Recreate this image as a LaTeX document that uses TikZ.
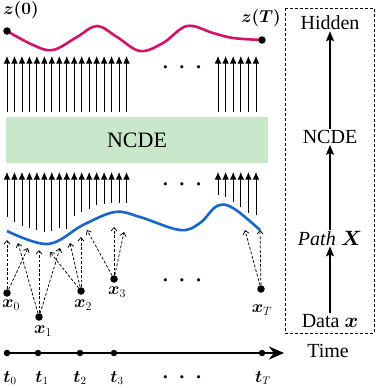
\documentclass[tikz,border=0pt]{standalone}
\usepackage{amsmath}
\usepackage[no-math]{fontspec}
\setmainfont{Liberation Serif}
\usetikzlibrary{arrows.meta}
\definecolor{curveA}{RGB}{214,18,104}
\definecolor{curveB}{RGB}{22,102,204}
\definecolor{ncdegreen}{RGB}{201,231,203}
\begin{document}
\begin{tikzpicture}[x=1pt,y=-1pt,
 dot/.style={circle,fill=black,inner sep=0pt,minimum size=7.5pt},
 tdot/.style={circle,fill=black,inner sep=0pt,minimum size=6.5pt},
 flow/.style={line width=0.8pt,-{Latex[length=7.5pt,width=6.5pt]}},
 feed/.style={line width=0.75pt,dash pattern=on 2.8pt off 1.8pt,-{Straight Barb[length=3.5pt,width=6pt]}},
 lab/.style={font=\fontsize{17}{20}\selectfont,inner sep=0pt},
 tlab/.style={font=\fontsize{16}{19}\selectfont,inner sep=0pt,anchor=base},
 big/.style={font=\fontsize{20}{24}\selectfont,inner sep=1pt},
 ellip/.style={font=\fontsize{20}{24}\selectfont,inner sep=0pt},
 stepflow/.style={line width=1.3pt,-{Stealth[length=10pt,width=8pt,inset=2pt]}}
]
\useasboundingbox (0,0) rectangle (376,388);

% top curve
\draw[curveA,line width=2.6pt] plot[smooth,tension=0.6] coordinates
 {(7,31) (33,45) (53,50) (77,37) (97,26) (117,37) (140,51) (163,43) (187,26) (213,33) (233,38) (262,40)};
\node[dot] (z0) at (7,31) {};
\node[dot] (zT) at (262,40) {};
\node[lab] (lz0) at (21,10) {$\boldsymbol{z(0)}$};
\node[lab] (lzT) at (261,18) {$\boldsymbol{z(T)}$};

% top arrows
\foreach \i in {0,...,16} \draw[flow] ({7+7.47*\i},112) -- ({7+7.47*\i},56);
\foreach \i in {0,...,5} \draw[flow] ({218+7.6*\i},112) -- ({218+7.6*\i},56);
\node[ellip] (dotsA) at (182,68) {$\boldsymbol{\cdot}$\hspace{10pt}$\boldsymbol{\cdot}$\hspace{10pt}$\boldsymbol{\cdot}$};

% NCDE box
\node[fill=ncdegreen,minimum width=262pt,minimum height=46pt,inner sep=0pt,font=\fontsize{22}{26}\selectfont] (ncde) at (137,140) {NCDE};

% lower arrows
\foreach \b [count=\i from 0] in {217,222,225.5,228,230,231.5,231,228,229,216,212,209,205,203.5,203,203,203}
  \draw[flow] ({7+7.47*\i},\b) -- ({7+7.47*\i},172);
\foreach \b [count=\i from 0] in {195,197,202,207,213,215}
  \draw[flow] ({218+7.6*\i},\b) -- ({218+7.6*\i},172);
\node[ellip] (dotsB) at (182,185) {$\boldsymbol{\cdot}$\hspace{10pt}$\boldsymbol{\cdot}$\hspace{10pt}$\boldsymbol{\cdot}$};

% blue curve
\draw[curveB,line width=2.6pt] plot[smooth,tension=0.6] coordinates
 {(7,231) (48,244) (83,225) (115,212) (140,217) (180,230) (200,223) (217,206) (233,208) (260,230)};

% data points
\node[dot] (x0) at (7,293) {};
\node[dot] (x1) at (39,317) {};
\node[dot] (x2) at (81,291) {};
\node[dot] (x3) at (114,279) {};
\node[dot] (xT) at (261,289) {};
\node[lab] (lx0) at (11,305) {$\boldsymbol{x}_0$};
\node[lab] (lx1) at (43,331) {$\boldsymbol{x}_1$};
\node[lab] (lx2) at (83,305) {$\boldsymbol{x}_2$};
\node[lab] (lx3) at (117,292) {$\boldsymbol{x}_3$};
\node[lab] (lxT) at (262,310) {$\boldsymbol{x}_T$};
\node[ellip] (dotsC) at (182,281) {$\boldsymbol{\cdot}$\hspace{10pt}$\boldsymbol{\cdot}$\hspace{10pt}$\boldsymbol{\cdot}$};

% targets on the path
\coordinate (a1) at (7,240);   \coordinate (a2) at (28,248);
\coordinate (b1) at (18,243);  \coordinate (b2) at (39,250); \coordinate (b3) at (60,248);
\coordinate (c1) at (50,252);  \coordinate (c2) at (70,243); \coordinate (c3) at (81,237);
\coordinate (d1) at (87,230);  \coordinate (d2) at (114,227); \coordinate (d3) at (124,232);
\coordinate (e1) at (245,230); \coordinate (e2) at (260,230);
\draw[feed] (x0) -- (a1); \draw[feed] (x0) -- (a2);
\draw[feed] (x1) -- (b1); \draw[feed] (x1) -- (b2); \draw[feed] (x1) -- (b3);
\draw[feed] (x2) -- (c1); \draw[feed] (x2) -- (c2); \draw[feed] (x2) -- (c3);
\draw[feed] (x3) -- (d1); \draw[feed] (x3) -- (d2); \draw[feed] (x3) -- (d3);
\draw[feed] (xT) -- (e1); \draw[feed] (xT) -- (e2);

% time line
\coordinate (tend) at (284,353);
\node[tdot] (t0) at (7,353) {};
\draw[line width=2.4pt,-{Stealth[length=15pt,width=13pt]}] (t0.center) -- (tend);
\node[tdot] (t1) at (38,353) {};
\node[tdot] (t2) at (80,353) {};
\node[tdot] (t3) at (114,353) {};
\node[tdot] (tT) at (262,353) {};
\node[big] (time) at (328,351) {Time};
\node[tlab] (lt0) at (10,382) {$\boldsymbol{t}_0$};
\node[tlab] (lt1) at (42,382) {$\boldsymbol{t}_1$};
\node[tlab] (lt2) at (80,382) {$\boldsymbol{t}_2$};
\node[tlab] (lt3) at (117,382) {$\boldsymbol{t}_3$};
\node[tlab] (ltT) at (263,382) {$\boldsymbol{t}_T$};
\node[ellip] (dotsD) at (182,378) {$\boldsymbol{\cdot}$\hspace{10pt}$\boldsymbol{\cdot}$\hspace{10pt}$\boldsymbol{\cdot}$};

% right legend
\draw[line width=0.6pt,dash pattern=on 3pt off 2pt] (285,8) rectangle (374,333);
\node[big] (hid) at (330,23) {Hidden};
\node[big] (ncdeR) at (330,137) {NCDE};
\node[big] (path) at (330,238) {\textit{Path} $\boldsymbol{X}$};
\node[big] (data) at (330,321) {Data $\boldsymbol{x}$};
\draw[stepflow] (data) -- (path);
\draw[stepflow] (path) -- (ncdeR);
\draw[stepflow] (ncdeR) -- (hid);
\end{tikzpicture}
\end{document}
